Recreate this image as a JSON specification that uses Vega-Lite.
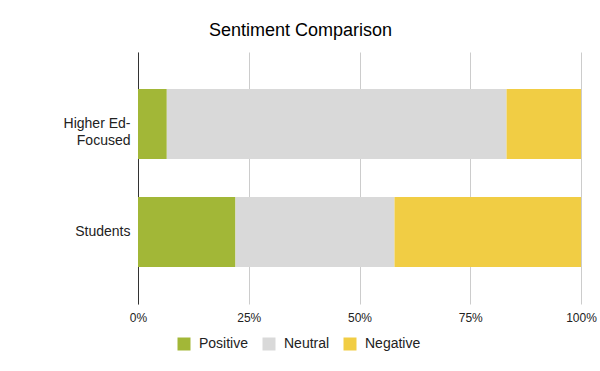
{
  "$schema": "https://vega.github.io/schema/vega-lite/v6.json",
  "width": 443,
  "height": 252,
  "autosize": {"type": "none"},
  "padding": {"left": 138, "top": 52, "right": 19, "bottom": 67},
  "background": "white",
  "title": {
    "text": "Sentiment Comparison",
    "font": "Liberation Sans",
    "fontSize": 18,
    "fontWeight": "normal",
    "color": "#000000",
    "anchor": "middle",
    "frame": "group",
    "dx": -59,
    "offset": 12
  },
  "data": {
    "values": [
      {"group": "Higher Ed-Focused", "sentiment": "Positive", "value": 6.5},
      {"group": "Higher Ed-Focused", "sentiment": "Neutral", "value": 76.7},
      {"group": "Higher Ed-Focused", "sentiment": "Negative", "value": 16.8},
      {"group": "Students", "sentiment": "Positive", "value": 22.0},
      {"group": "Students", "sentiment": "Neutral", "value": 35.9},
      {"group": "Students", "sentiment": "Negative", "value": 42.1}
    ]
  },
  "transform": [
    {"calculate": "indexof(['Positive','Neutral','Negative'], datum.sentiment)", "as": "ord"}
  ],
  "mark": {"type": "bar"},
  "encoding": {
    "y": {
      "field": "group",
      "type": "nominal",
      "sort": ["Higher Ed-Focused", "Students"],
      "title": null,
      "scale": {"paddingInner": 0.35, "paddingOuter": 0.342},
      "axis": {
        "labelExpr": "datum.label == 'Higher Ed-Focused' ? ['Higher Ed-', 'Focused'] : datum.label",
        "labelFont": "Liberation Sans",
        "labelFontSize": 14,
        "labelColor": "#222222",
        "labelLineHeight": 17,
        "labelPadding": 8,
        "ticks": false,
        "domain": true,
        "domainColor": "#333333",
        "domainWidth": 1,
        "grid": false
      }
    },
    "x": {
      "field": "value",
      "type": "quantitative",
      "stack": "normalize",
      "title": null,
      "scale": {"domain": [0, 1], "nice": false},
      "axis": {
        "values": [0, 0.25, 0.5, 0.75, 1],
        "format": ".0%",
        "labelFont": "Liberation Sans",
        "labelFontSize": 12,
        "labelColor": "#222222",
        "labelPadding": 8,
        "ticks": false,
        "domain": false,
        "grid": true,
        "gridColor": "#cccccc",
        "gridWidth": 1,
        "labelFlush": false
      }
    },
    "color": {
      "field": "sentiment",
      "type": "nominal",
      "sort": ["Positive", "Neutral", "Negative"],
      "scale": {
        "domain": ["Positive", "Neutral", "Negative"],
        "range": ["#a2b737", "#d9d9d9", "#f1cd44"]
      },
      "legend": {
        "title": null,
        "orient": "none",
        "direction": "horizontal",
        "legendX": 39,
        "legendY": 285,
        "symbolType": "square",
        "symbolSize": 169,
        "symbolStrokeWidth": 0,
        "labelFont": "Liberation Sans",
        "labelFontSize": 14,
        "labelColor": "#222222",
        "labelOffset": 8,
        "columnPadding": 13,
        "padding": 0
      }
    },
    "order": {"field": "ord", "type": "quantitative", "sort": "ascending"}
  },
  "config": {
    "view": {"stroke": null},
    "axis": {"zindex": 0}
  }
}
